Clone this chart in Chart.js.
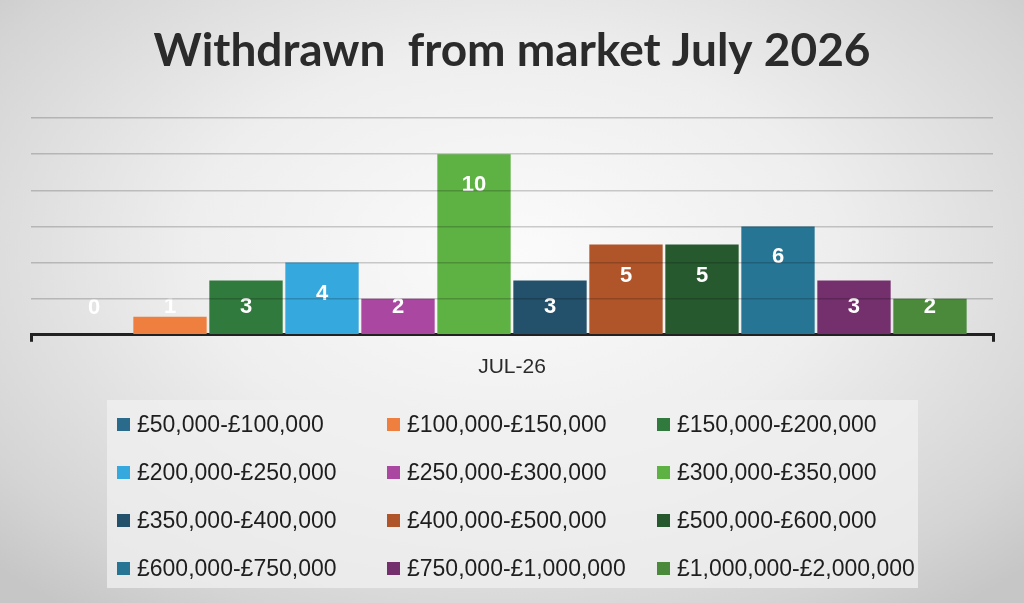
<!DOCTYPE html>
<html>
<head>
<meta charset="utf-8">
<script src="https://cdn.jsdelivr.net/npm/chart.js@4.4.1/dist/chart.umd.min.js"></script>
<style>
  html, body { margin: 0; padding: 0; }
  body {
    width: 1024px; height: 603px; overflow: hidden; position: relative;
    background: radial-gradient(ellipse 70% 75% at 50% 42%, #fbfbfb 0%, #eeeeee 45%, #d4d4d4 85%, #c6c6c6 100%);
    font-family: "Liberation Sans", Arial, sans-serif;
  }
  #chart { position: absolute; left: 0; top: 0; }
  #legend {
    position: absolute; left: 107px; top: 400px; width: 811px; height: 188px;
    background: rgba(240, 240, 240, 0.75);
    display: grid; grid-template-columns: 270px 270px 271px;
    grid-auto-rows: 48px; box-sizing: border-box;
  }
  .item { display: flex; align-items: center; padding-left: 10px; font-size: 23px; color: #1e1e1e; }
  .swatch { width: 13px; height: 13px; margin-right: 7px; flex: none; }
</style>
</head>
<body>
<canvas id="chart" width="1024" height="603"></canvas>
<div id="legend"></div>
<script>
// --- data ---
const categories = ['JUL-26'];
const priceBands = [
    '£50,000-£100,000', '£100,000-£150,000', '£150,000-£200,000',
    '£200,000-£250,000', '£250,000-£300,000', '£300,000-£350,000',
    '£350,000-£400,000', '£400,000-£500,000', '£500,000-£600,000',
    '£600,000-£750,000', '£750,000-£1,000,000', '£1,000,000-£2,000,000'
];
const withdrawnCounts = [0, 1, 3, 4, 2, 10, 3, 5, 5, 6, 3, 2];
const bandColors = [
    '#2a6b8c', '#ef7f3e', '#2f7a3c',
    '#35a8dd', '#a947a1', '#5db243',
    '#23506b', '#b0552a', '#27592f',
    '#277595', '#742f6d', '#4a8a3a'
];
const yTicks = [0, 2, 4, 6, 8, 10, 12];

// etiquetas brancas dentro das barras (estilo Excel "inside end")
const valueLabels = {
    id: 'valueLabels',
    afterDatasetsDraw(chart) {
        const ctx = chart.ctx;
        ctx.save();
        ctx.fillStyle = '#ffffff';
        ctx.font = 'bold 22px "Liberation Sans", Arial, sans-serif';
        ctx.textAlign = 'center';
        ctx.textBaseline = 'middle';
        chart.data.datasets.forEach((ds, i) => {
            const bar = chart.getDatasetMeta(i).data[0];
            const { x, y, base } = bar.getProps(['x', 'y', 'base'], true);
            const ly = Math.min(y + 31, base - 27);
            ctx.fillText(String(ds.data[0]), x, ly);
        });
        ctx.restore();
    }
};

new Chart(document.getElementById('chart'), {
    type: 'bar',
    data: {
        labels: categories,
        datasets: priceBands.map((band, i) => ({
            label: band,
            data: [withdrawnCounts[i]],
            backgroundColor: bandColors[i],
            borderWidth: 0,
            barPercentage: 0.965,
            categoryPercentage: 0.948
        }))
    },
    options: {
        responsive: false,
        animation: false,
        layout: { padding: { left: 31, right: 31, top: 0, bottom: 210 } },
        plugins: {
            legend: { display: false },
            tooltip: { enabled: false },
            title: {
                display: true,
                text: 'Withdrawn  from market July 2026',
                color: '#2b2b2b',
                font: { family: 'Lato, "Liberation Sans", Arial, sans-serif', size: 46, weight: 'bold', lineHeight: 1.2 },
                padding: { top: 24, bottom: 38.8 }
            }
        },
        scales: {
            x: {
                grid: { display: true, drawOnChartArea: false, drawTicks: true, tickLength: 7, color: '#222', lineWidth: 3 },
                border: { display: true, color: '#222', width: 3 },
                ticks: { color: '#2a2a2a', padding: 13, font: { family: '"Liberation Sans", Arial, sans-serif', size: 21 } }
            },
            y: {
                min: yTicks[0],
                max: yTicks[yTicks.length - 1],
                afterBuildTicks: (axis) => { axis.ticks = yTicks.map(v => ({ value: v })); },
                ticks: { display: false },
                border: { display: false },
                grid: { color: (c) => c.tick.value === 0 ? 'rgba(0,0,0,0)' : 'rgba(0,0,0,0.19)', lineWidth: 1.5, drawTicks: false, z: 1 }
            }
        }
    },
    plugins: [valueLabels]
});

// legenda em grade de 3 colunas
document.getElementById('legend').innerHTML = priceBands.map((band, i) => `
    <div class="item"><span class="swatch" style="background:${bandColors[i]}"></span>${band}</div>
`).join('');
</script>
</body>
</html>
